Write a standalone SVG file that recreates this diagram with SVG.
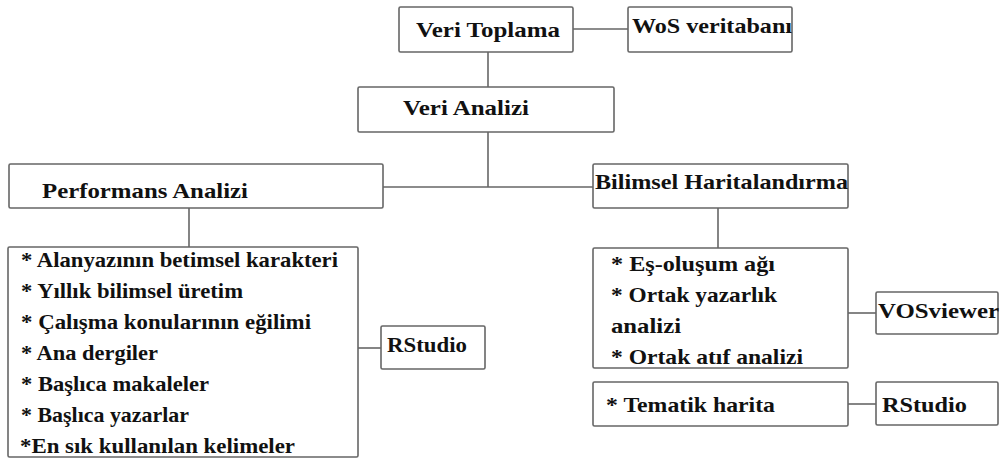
<svg xmlns="http://www.w3.org/2000/svg" width="1000" height="461" viewBox="0 0 1000 461">
<style>
.box{fill:#fff;stroke:#666;stroke-width:1.6}
.t{font-family:"Liberation Serif","Times New Roman",serif;font-weight:bold;font-size:22px;fill:#111}
.c{stroke:#666;stroke-width:1.6;fill:none}
</style>
<rect width="1000" height="461" fill="#fff"/>
<g id="connectors">
<line class="c" x1="573" y1="29" x2="628" y2="29"/>
<line class="c" x1="488" y1="52" x2="488" y2="87"/>
<line class="c" x1="488" y1="132" x2="488" y2="187"/>
<line class="c" x1="383" y1="187" x2="593" y2="187"/>
<line class="c" x1="189" y1="208" x2="189" y2="247"/>
<line class="c" x1="718" y1="208" x2="718" y2="248"/>
<line class="c" x1="358" y1="348" x2="381" y2="348"/>
<line class="c" x1="848" y1="313" x2="876" y2="313"/>
<line class="c" x1="848" y1="404" x2="876" y2="404"/>
</g>
<g id="veri-toplama">
<rect class="box" x="399" y="7" width="174" height="45" rx="1.5"/>
<text class="t" x="416" y="37" textLength="144" lengthAdjust="spacingAndGlyphs">Veri Toplama</text>
</g>
<g id="wos">
<rect class="box" x="628" y="7" width="164" height="45" rx="1.5"/>
<text class="t" x="632" y="33" textLength="160" lengthAdjust="spacingAndGlyphs">WoS veritabanı</text>
</g>
<g id="veri-analizi">
<rect class="box" x="358" y="87" width="256" height="45" rx="1.5"/>
<text class="t" x="403" y="115" textLength="126" lengthAdjust="spacingAndGlyphs">Veri Analizi</text>
</g>
<g id="performans">
<rect class="box" x="9" y="164" width="374" height="44" rx="1.5"/>
<text class="t" x="42" y="198" textLength="206" lengthAdjust="spacingAndGlyphs">Performans Analizi</text>
</g>
<g id="bilimsel">
<rect class="box" x="593" y="164" width="255" height="44" rx="1.5"/>
<text class="t" x="595" y="189" textLength="253" lengthAdjust="spacingAndGlyphs">Bilimsel Haritalandırma</text>
</g>
<g id="performans-list">
<rect class="box" x="8" y="247" width="350" height="210" rx="1.5"/>
<text class="t" x="21" y="267" textLength="317" lengthAdjust="spacingAndGlyphs">* Alanyazının betimsel karakteri</text>
<text class="t" x="21" y="298" textLength="222" lengthAdjust="spacingAndGlyphs">* Yıllık bilimsel üretim</text>
<text class="t" x="21" y="329" textLength="290" lengthAdjust="spacingAndGlyphs">* Çalışma konularının eğilimi</text>
<text class="t" x="21" y="360" textLength="137" lengthAdjust="spacingAndGlyphs">* Ana dergiler</text>
<text class="t" x="21" y="391" textLength="188" lengthAdjust="spacingAndGlyphs">* Başlıca makaleler</text>
<text class="t" x="21" y="422" textLength="168" lengthAdjust="spacingAndGlyphs">* Başlıca yazarlar</text>
<text class="t" x="20" y="453" textLength="275" lengthAdjust="spacingAndGlyphs">*En sık kullanılan kelimeler</text>
</g>
<g id="rstudio-left">
<rect class="box" x="381" y="326" width="104" height="43" rx="1.5"/>
<text class="t" x="387" y="352" textLength="80" lengthAdjust="spacingAndGlyphs">RStudio</text>
</g>
<g id="bilimsel-list">
<rect class="box" x="593" y="248" width="255" height="120" rx="1.5"/>
<text class="t" x="611" y="271" textLength="164" lengthAdjust="spacingAndGlyphs">* Eş-oluşum ağı</text>
<text class="t" x="611" y="302" textLength="166" lengthAdjust="spacingAndGlyphs">* Ortak yazarlık</text>
<text class="t" x="611" y="333" textLength="70" lengthAdjust="spacingAndGlyphs">analizi</text>
<text class="t" x="611" y="364" textLength="192" lengthAdjust="spacingAndGlyphs">* Ortak atıf analizi</text>
</g>
<g id="vosviewer">
<rect class="box" x="876" y="292" width="122" height="42" rx="1.5"/>
<text class="t" x="878" y="318" textLength="121" lengthAdjust="spacingAndGlyphs">VOSviewer</text>
</g>
<g id="tematik">
<rect class="box" x="593" y="382" width="255" height="44" rx="1.5"/>
<text class="t" x="606" y="412" textLength="169" lengthAdjust="spacingAndGlyphs">* Tematik harita</text>
</g>
<g id="rstudio-right">
<rect class="box" x="876" y="382" width="122" height="43" rx="1.5"/>
<text class="t" x="882" y="412" textLength="85" lengthAdjust="spacingAndGlyphs">RStudio</text>
</g>
</svg>
